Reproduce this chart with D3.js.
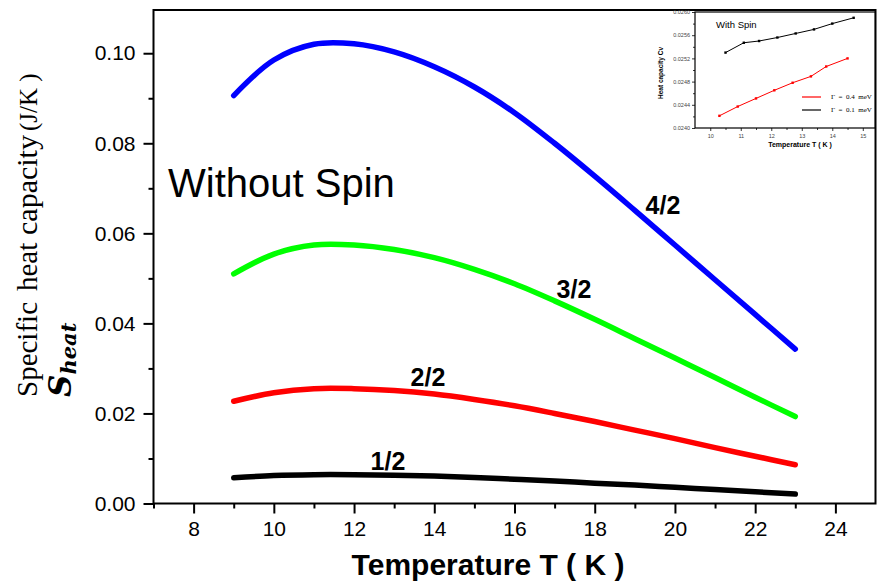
<!DOCTYPE html>
<html><head><meta charset="utf-8">
<script src="https://cdn.jsdelivr.net/npm/d3@7"></script>
<style>body{margin:0;background:#fff}svg{display:block}</style>
</head><body>
<svg id="c" width="879" height="585"></svg>
<script>
// ---- main chart data ----
const temps = [9,10,11,12,13,14,15,16,17,18,19,20,21,22,23];
const spin42 = [0.0906,0.0985,0.1020,0.1021,0.1003,0.0970,0.0925,0.0868,0.0800,0.0727,0.0651,0.0574,0.0497,0.0420,0.0343];
const spin32 = [0.0510,0.0554,0.0574,0.0574,0.0564,0.0546,0.0520,0.0488,0.0450,0.0409,0.0366,0.0323,0.0280,0.0236,0.0193];
const spin22 = [0.0227,0.0246,0.0255,0.0255,0.0251,0.0243,0.0231,0.0217,0.0200,0.0182,0.0163,0.0144,0.0124,0.0105,0.0086];
const spin12 = [0.0057,0.0062,0.0064,0.0064,0.0063,0.0061,0.0058,0.0054,0.0050,0.0045,0.0041,0.0036,0.0031,0.0026,0.0021];
const seriesNames = ["4/2","3/2","2/2","1/2"];
const seriesColors = ["#0000ff","#00ff00","#ff0000","#000000"];
const xMajorTicks = [8,10,12,14,16,18,20,22,24];
const xMinorTicks = [7,9,11,13,15,17,19,21,23];
const yMajorTicks = [0,0.02,0.04,0.06,0.08,0.10];
const yMinorTicks = [0.01,0.03,0.05,0.07,0.09];

// ---- inset data ----
const insetT01 = [10.5,11.1,11.6,12.2,12.8,13.4,14.0,14.7];
const insetCv01 = [0.02530,0.02547,0.02550,0.02556,0.02563,0.02570,0.02580,0.02590];
const insetT04 = [10.3,10.9,11.5,12.1,12.7,13.3,13.8,14.5];
const insetCv04 = [0.02421,0.02437,0.02451,0.02465,0.02478,0.02489,0.02506,0.02520];
const insetXTicks = [10,11,12,13,14,15];
const insetXMinor = [10.5,11.5,12.5,13.5,14.5];
const insetYTicks = [0.0240,0.0244,0.0248,0.0252,0.0256,0.0260];
const insetYMinor = [0.0242,0.0246,0.0250,0.0254,0.0258];

const svg = d3.select("#c");
const L=153.5, R=875.5, T=10, B=503.5;
const x = d3.scaleLinear([7,25],[L,R]);
const y = d3.scaleLinear([0,0.1096],[B,T]);
const SANS = "Arial, 'Liberation Sans', sans-serif";
const SERIF = "'Liberation Serif','Times New Roman',serif";

// curves
const allSeries = [spin42,spin32,spin22,spin12];
const line = d3.line().x(d=>x(d[0])).y(d=>y(d[1])).curve(d3.curveCatmullRom.alpha(0.5));
allSeries.forEach((s,i)=>{
  svg.append("path").attr("d",line(temps.map((t,j)=>[t,s[j]])))
    .attr("fill","none").attr("stroke",seriesColors[i]).attr("stroke-width",5.5)
    .attr("stroke-linecap","round");
});

// axes
const xAx = svg.append("g").attr("transform",`translate(0,${B})`)
  .call(d3.axisBottom(x).tickValues(xMajorTicks).tickSize(10).tickPadding(8).tickFormat(d3.format("d")));
const xAxMin = svg.append("g").attr("transform",`translate(0,${B})`)
  .call(d3.axisBottom(x).tickValues(xMinorTicks).tickSize(5).tickFormat(""));
const yAx = svg.append("g").attr("transform",`translate(${L},0)`)
  .call(d3.axisLeft(y).tickValues(yMajorTicks).tickSize(10).tickPadding(8).tickFormat(d3.format(".2f")));
const yAxMin = svg.append("g").attr("transform",`translate(${L},0)`)
  .call(d3.axisLeft(y).tickValues(yMinorTicks).tickSize(5).tickFormat(""));
[xAx,xAxMin,yAx,yAxMin].forEach(g=>{
  g.select(".domain").remove();
  g.selectAll("line").attr("stroke","#000").attr("stroke-width",2);
  g.selectAll("text").attr("font-family",SANS).attr("font-size",21).attr("fill","#000");
});

// frame
svg.append("rect").attr("x",L).attr("y",T).attr("width",R-L).attr("height",B-T)
  .attr("fill","none").attr("stroke","#000").attr("stroke-width",2);

// series labels
const lab = [[663,214],[574,298],[428,386],[388,470]];
seriesNames.forEach((n,i)=>{
  svg.append("text").attr("x",lab[i][0]).attr("y",lab[i][1]).attr("text-anchor","middle")
    .attr("font-family",SANS).attr("font-weight","bold").attr("font-size",25)
    .text(n);
});
svg.append("text").attr("x",168).attr("y",197).attr("font-family",SANS)
  .attr("font-size",40).text("Without Spin");

// axis titles
svg.append("text").attr("x",488).attr("y",575).attr("text-anchor","middle")
  .attr("font-family",SANS).attr("font-weight","bold").attr("font-size",30)
  .text("Temperature T ( K )");
const yt = svg.append("text").attr("transform","translate(37,397) rotate(-90)")
  .attr("font-family",SERIF).attr("font-size",29);
yt.append("tspan").attr("x",0).text("Specific");
yt.append("tspan").attr("x",106).text("heat");
yt.append("tspan").attr("x",162).attr("font-size",30).text("capacity");
yt.append("tspan").attr("x",266).attr("font-size",25).text("(J/K )");
const st = svg.append("text").attr("transform","translate(71,397) rotate(-90)")
  .attr("font-family","'DejaVu Serif','Liberation Serif',serif").attr("font-weight","bold").attr("font-style","italic");
st.append("tspan").attr("font-size",31).text("S");
st.append("tspan").attr("font-size",21).attr("dy",5).text("heat");

// ---- inset ----
const iL=695, iR=875, iT=12, iB=128;
const xi = d3.scaleLinear([9.5,15.4],[iL,iR]);
const yi = d3.scaleLinear([0.0240,0.0260],[iB,iT]);
const ig = svg.append("g");
ig.append("rect").attr("x",iL).attr("y",iT).attr("width",iR-iL).attr("height",iB-iT)
  .attr("fill","#fff").attr("stroke","#000").attr("stroke-width",1.2);
const ixA = ig.append("g").attr("transform",`translate(0,${iB})`)
  .call(d3.axisBottom(xi).tickValues(insetXTicks).tickSize(3).tickPadding(3).tickFormat(d3.format("d")));
const ixM = ig.append("g").attr("transform",`translate(0,${iB})`)
  .call(d3.axisBottom(xi).tickValues(insetXMinor).tickSize(2).tickFormat(""));
const iyA = ig.append("g").attr("transform",`translate(${iL},0)`)
  .call(d3.axisLeft(yi).tickValues(insetYTicks).tickSize(3).tickPadding(2).tickFormat(d3.format(".4f")));
const iyM = ig.append("g").attr("transform",`translate(${iL},0)`)
  .call(d3.axisLeft(yi).tickValues(insetYMinor).tickSize(2).tickFormat(""));
[ixA,ixM,iyA,iyM].forEach(g=>{
  g.select(".domain").remove();
  g.selectAll("line").attr("stroke","#000").attr("stroke-width",0.8);
  g.selectAll("text").attr("font-family",SANS).attr("font-size",5.5).attr("fill","#444");
});
const iline = d3.line().x(d=>xi(d[0])).y(d=>yi(d[1]));
const insetSeries = [[insetT04,insetCv04,"#ff0000"],[insetT01,insetCv01,"#000000"]];
insetSeries.forEach(([ts,vs,c])=>{
  const pts = ts.map((t,j)=>[t,vs[j]]);
  ig.append("path").attr("d",iline(pts)).attr("fill","none").attr("stroke",c).attr("stroke-width",1);
  ig.selectAll(null).data(pts).enter().append("rect")
    .attr("x",d=>xi(d[0])-1.2).attr("y",d=>yi(d[1])-1.2).attr("width",2.4).attr("height",2.4).attr("fill",c);
});
ig.append("text").attr("x",716).attr("y",28).attr("font-family",SANS)
  .attr("font-size",9.5).text("With Spin");
ig.append("text").attr("x",800).attr("y",147).attr("text-anchor","middle")
  .attr("font-family",SANS).attr("font-weight","bold").attr("font-size",7)
  .text("Temperature T ( K )");
ig.append("text").attr("transform","translate(663,73) rotate(-90)").attr("text-anchor","middle")
  .attr("font-family",SANS).attr("font-weight","bold").attr("font-size",6.5)
  .text("Heat capacity Cv");
const legend = [["Γ  =  0.4  meV","#ff0000",97],["Γ  =  0.1  meV","#000000",110]];
legend.forEach(([t,c,yy])=>{
  ig.append("line").attr("x1",802).attr("x2",821).attr("y1",yy).attr("y2",yy).attr("stroke",c).attr("stroke-width",1.2);
  ig.append("text").attr("x",831).attr("y",yy+2).attr("font-family",SERIF)
    .attr("font-size",7).attr("xml:space","preserve").style("white-space","pre").text(t);
});
</script>
</body></html>
